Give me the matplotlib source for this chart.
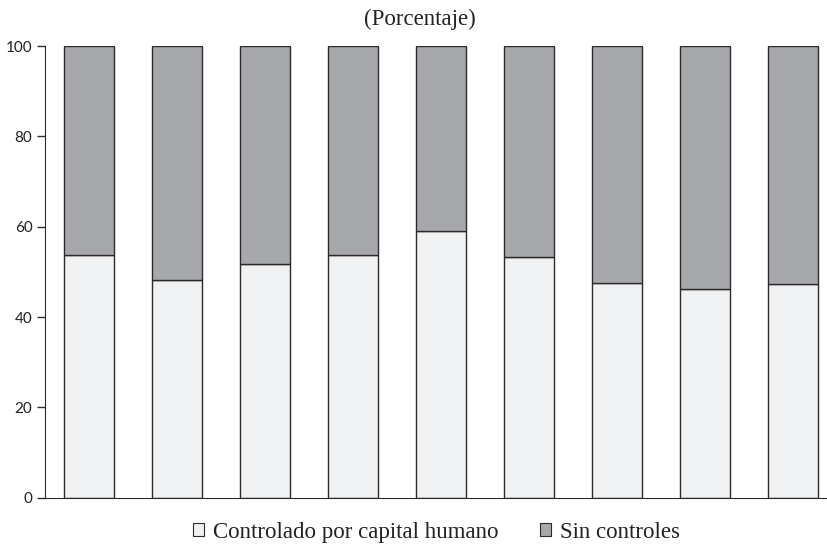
import numpy as np
import matplotlib
matplotlib.use("Agg")
import matplotlib.pyplot as plt
from matplotlib.patches import Patch

# share (%) explained by human capital controls vs. without controls
controlado = [53.7, 48.3, 51.7, 53.8, 59.1, 53.2, 47.6, 46.2, 47.3]
sin_controles = [100 - v for v in controlado]
yticks = [0, 20, 40, 60, 80, 100]

light = "#f0f1f3"
dark = "#a7a8ab"
edge = "#2b2b2b"

fig = plt.figure(figsize=(8.28, 5.48), dpi=100)
ax = fig.add_axes([0.0543, 0.0918, 0.9433, 0.8242])

x = np.arange(len(controlado))
ax.bar(x, controlado, width=0.567, color=light, edgecolor=edge, linewidth=1.0)
ax.bar(x, sin_controles, bottom=controlado, width=0.567, color=dark,
       edgecolor=edge, linewidth=1.0)

ax.set_xlim(-0.5, 8.37)
ax.set_ylim(0, 100)
ax.set_yticks(yticks)
ax.set_xticks([])
ax.tick_params(axis="y", direction="out", length=6, width=1, color=edge,
               labelsize=11, labelcolor="#222222", pad=3)
for lab in ax.get_yticklabels():
    lab.set_family("Lato")
ax.spines["top"].set_visible(False)
ax.spines["right"].set_visible(False)
ax.spines["left"].set_color(edge)
ax.spines["bottom"].set_color(edge)

fig.text(0.507, 0.965, "(Porcentaje)", ha="center", va="center",
         family="Liberation Serif", fontsize=16.5, color="#222222")

handles = [Patch(facecolor=light, edgecolor=edge, linewidth=0.8),
           Patch(facecolor=dark, edgecolor=edge, linewidth=0.8)]
fig.legend(handles, ["Controlado por capital humano", "Sin controles"],
           loc="center", bbox_to_anchor=(0.527, 0.029), ncol=2, frameon=False,
           prop={"family": "Liberation Serif", "size": 16.5},
           handlelength=0.47, handleheight=0.47, handletextpad=0.4,
           columnspacing=1.8, labelcolor="#222222")

fig.savefig("out.png", dpi=100)
